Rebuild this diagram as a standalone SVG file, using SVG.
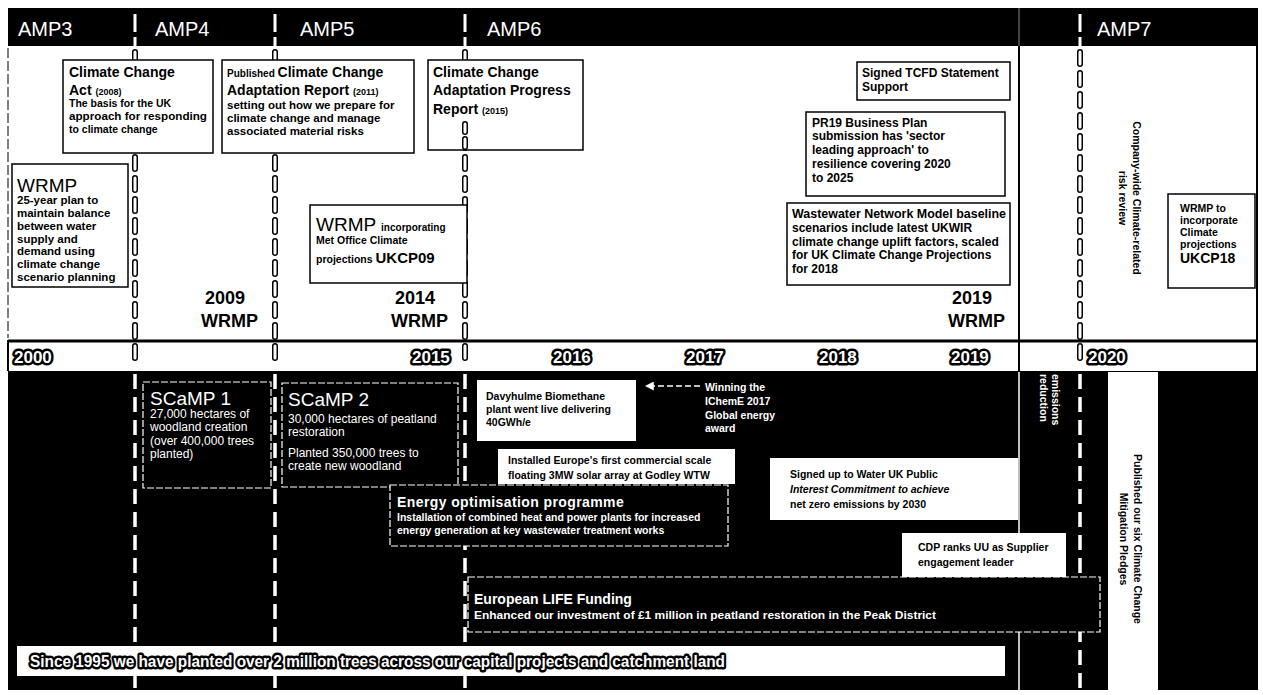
<svg xmlns="http://www.w3.org/2000/svg" width="1263" height="695" viewBox="0 0 1263 695">
<defs>
<style>
text{font-family:"Liberation Sans",Arial,sans-serif}
.amp{font-size:20px;fill:#fff}
.s{font-size:10.5px;font-weight:bold;fill:#000}
.m{font-size:11.5px;font-weight:bold;fill:#000}
.l{font-size:12px;font-weight:bold;fill:#000}
.sw{font-size:10.5px;font-weight:bold;fill:#fff}
.rw{font-size:12px;fill:#fff}
.h{font-size:14px;font-weight:bold;fill:#000}
.hw{font-size:14px;fill:#fff;font-weight:bold}
.big{font-size:19px;fill:#000}
.bigw{font-size:19px;fill:#fff}
.yr{font-size:17px;font-weight:bold;fill:#fff;stroke:#000;stroke-width:5;paint-order:stroke;stroke-linejoin:round}
.wr{font-size:18px;font-weight:bold;fill:#000}
.box{fill:#fff;stroke:#000;stroke-width:1.5}
.wbox{fill:#fff;stroke:none}
.dbox{fill:#000;stroke:#fff;stroke-width:1.2;stroke-dasharray:7 2}
.sm{font-size:9px}
</style>
<marker id="ah" viewBox="0 0 10 10" refX="2" refY="5" markerWidth="6" markerHeight="6" orient="auto-start-reverse">
<path d="M0 0 L10 5 L0 10 z" fill="#fff"/>
</marker>
</defs>
<rect width="1263" height="695" fill="#fff"/>
<g id="background">
<rect x="8" y="8" width="1250" height="38" fill="#000"/>
<rect x="8" y="371" width="1250" height="319" fill="#000"/>
<rect x="1108" y="372" width="50" height="318" fill="#fff"/>
<line x1="8" y1="48" x2="8" y2="338" stroke="#000" stroke-width="1" stroke-dasharray="10 3"/>
<line x1="1257" y1="46" x2="1257" y2="340" stroke="#000" stroke-width="2"/>
<line x1="8" y1="341" x2="1258" y2="341" stroke="#000" stroke-width="3"/>
<line x1="8" y1="340" x2="8" y2="371" stroke="#000" stroke-width="2"/>
<line x1="1257" y1="340" x2="1257" y2="371" stroke="#000" stroke-width="2"/>
<line x1="1019" y1="8" x2="1019" y2="46" stroke="#888" stroke-width="1"/>
<line x1="1019" y1="46" x2="1019" y2="371" stroke="#000" stroke-width="2"/>
<line x1="1019" y1="372" x2="1019" y2="690" stroke="#fff" stroke-width="1.5"/>
</g>
<g id="dividers">
<path d="M135 14 V32 M135 37 V46 M275 14 V32 M275 37 V46 M465 14 V32 M465 37 V46 M1080 14 V32 M1080 37 V46" stroke="#fff" stroke-width="3"/>
<path d="M135 52 V366 M275 52 V366 M465 52 V366 M1080 52 V366" stroke="#000" stroke-width="6" stroke-dasharray="12 9" stroke-linecap="round" fill="none"/>
<path d="M135 52 V366 M275 52 V366 M465 52 V366 M1080 52 V366" stroke="#fff" stroke-width="3" stroke-dasharray="12 9" stroke-linecap="round" fill="none"/>
<path d="M135 374 V690 M275 374 V690 M465 374 V690 M1080 374 V690" stroke="#fff" stroke-width="3.5" stroke-dasharray="15 8" fill="none"/>
</g>
<g id="amp-labels">
<text class="amp" x="18" y="36">AMP3</text>
<text class="amp" x="155" y="36">AMP4</text>
<text class="amp" x="300" y="36">AMP5</text>
<text class="amp" x="487" y="36">AMP6</text>
<text class="amp" x="1097" y="36">AMP7</text>
</g>
<g id="years">
<text class="yr" x="14" y="363">2000</text>
<text class="yr" x="412" y="363">2015</text>
<text class="yr" x="553" y="363">2016</text>
<text class="yr" x="686" y="363">2017</text>
<text class="yr" x="819" y="363">2018</text>
<text class="yr" x="951" y="363">2019</text>
<text class="yr" x="1088" y="363">2020</text>
</g>
<g id="cc-act">
<rect class="box" x="63" y="60" width="150" height="93"/>
<text class="h" x="69" y="77">Climate Change</text>
<text class="h" x="69" y="95">Act <tspan class="sm">(2008)</tspan></text>
<text class="s" x="69" y="107">The basis for the UK</text>
<text class="s" x="69" y="120" textLength="138" lengthAdjust="spacingAndGlyphs">approach for responding</text>
<text class="s" x="69" y="133">to climate change</text>
</g>
<g id="cc-adaptation">
<rect class="box" x="222" y="60" width="192" height="93"/>
<text class="h" x="227" y="77"><tspan font-size="10">Published </tspan>Climate Change</text>
<text class="h" x="227" y="95">Adaptation Report <tspan class="sm">(2011)</tspan></text>
<text class="m" x="227" y="109">setting out how we prepare for</text>
<text class="m" x="227" y="122">climate change and manage</text>
<text class="m" x="227" y="135">associated material risks</text>
</g>
<g id="cc-progress">
<rect class="box" x="428" y="60" width="155" height="90"/>
<text class="h" x="433" y="77">Climate Change</text>
<text class="h" x="433" y="95">Adaptation Progress</text>
<text class="h" x="433" y="114">Report <tspan class="sm">(2015)</tspan></text>
</g>
<path d="M465 124 V150" stroke="#000" stroke-width="6" stroke-dasharray="8 7" stroke-linecap="round"/>
<path d="M465 124 V150" stroke="#fff" stroke-width="3" stroke-dasharray="8 7" stroke-linecap="round"/>
<g id="tcfd">
<rect class="box" x="857" y="62" width="153" height="38"/>
<text class="l" x="862" y="77">Signed TCFD Statement</text>
<text class="l" x="862" y="91">Support</text>
</g>
<g id="pr19">
<rect class="box" x="806" y="112" width="199" height="84"/>
<text class="l" x="812" y="127">PR19 Business Plan</text>
<text class="l" x="812" y="140">submission has 'sector</text>
<text class="l" x="812" y="154">leading approach' to</text>
<text class="l" x="812" y="168">resilience covering 2020</text>
<text class="l" x="812" y="182">to 2025</text>
</g>
<g id="wastewater">
<rect class="box" x="787" y="203" width="223" height="82"/>
<text class="l" x="792" y="218" textLength="214" lengthAdjust="spacingAndGlyphs">Wastewater Network Model baseline</text>
<text class="l" x="792" y="232">scenarios include latest UKWIR</text>
<text class="l" x="792" y="246">climate change uplift factors, scaled</text>
<text class="l" x="792" y="259">for UK Climate Change Projections</text>
<text class="l" x="792" y="273">for 2018</text>
</g>
<g id="wrmp-2019">
<text class="wr" x="952" y="304">2019</text>
<text class="wr" x="948" y="327">WRMP</text>
</g>
<g id="wrmp">
<rect class="box" x="12" y="164" width="116" height="123"/>
<text class="big" x="17" y="192">WRMP</text>
<text class="m" x="17" y="204">25-year plan to</text>
<text class="m" x="17" y="217">maintain balance</text>
<text class="m" x="17" y="230">between water</text>
<text class="m" x="17" y="243">supply and</text>
<text class="m" x="17" y="255">demand using</text>
<text class="m" x="17" y="268">climate change</text>
<text class="m" x="17" y="281">scenario planning</text>
</g>
<g id="wrmp-2009">
<text class="wr" x="205" y="304">2009</text>
<text class="wr" x="201" y="327">WRMP</text>
</g>
<g id="wrmp-ukcp09">
<rect class="box" x="310" y="205" width="157" height="78"/>
<text class="big" x="316" y="231">WRMP <tspan font-size="10" font-weight="bold">incorporating</tspan></text>
<text class="s" x="316" y="244">Met Office Climate</text>
<text class="s" x="316" y="263">projections <tspan font-size="15">UKCP09</tspan></text>
</g>
<g id="wrmp-2014">
<text class="wr" x="395" y="304">2014</text>
<text class="wr" x="391" y="327">WRMP</text>
</g>
<g id="risk-review">
<text class="s" transform="translate(1133,198) rotate(90)" text-anchor="middle" font-size="12">Company-wide Climate-related<tspan x="0" dy="14">risk review</tspan></text>
</g>
<g id="wrmp-ukcp18">
<rect class="box" x="1168" y="194" width="87" height="94"/>
<text class="s" x="1180" y="212">WRMP to</text>
<text class="s" x="1180" y="224">incorporate</text>
<text class="s" x="1180" y="236">Climate</text>
<text class="s" x="1180" y="248">projections</text>
<text class="h" x="1180" y="263">UKCP18</text>
</g>
<g id="scamp1">
<rect class="dbox" x="143" y="382" width="128" height="106"/>
<text class="bigw" x="150" y="405">SCaMP 1</text>
<text class="rw" x="150" y="418">27,000 hectares of</text>
<text class="rw" x="150" y="431">woodland creation</text>
<text class="rw" x="150" y="445">(over 400,000 trees</text>
<text class="rw" x="150" y="458">planted)</text>
</g>
<g id="scamp2">
<rect class="dbox" x="282" y="383" width="176" height="104" stroke-dasharray="none"/>
<text class="bigw" x="288" y="406">SCaMP 2</text>
<text class="rw" x="288" y="423" font-size="12.5">30,000 hectares of peatland</text>
<text class="rw" x="288" y="436" font-size="12.5">restoration</text>
<text class="rw" x="288" y="457" font-size="12.5">Planted 350,000 trees to</text>
<text class="rw" x="288" y="470" font-size="12.5">create new woodland</text>
</g>
<g id="davyhulme">
<rect class="wbox" x="477" y="380" width="159" height="61"/>
<text class="s" x="486" y="400">Davyhulme Biomethane</text>
<text class="s" x="486" y="413">plant went live delivering</text>
<text class="s" x="486" y="426">40GWh/e</text>
</g>
<g id="icheme">
<text class="sw" x="705" y="391">Winning the</text>
<text class="sw" x="705" y="405">IChemE 2017</text>
<text class="sw" x="705" y="419">Global energy</text>
<text class="sw" x="705" y="432">award</text>
</g>
<g id="connectors">
<line x1="700" y1="386" x2="652" y2="386" stroke="#fff" stroke-width="1.5" stroke-dasharray="6 3" marker-end="url(#ah)"/>
</g>
<g id="solar">
<rect class="wbox" x="498" y="449" width="237" height="35"/>
<text class="s" x="508" y="464">Installed Europe's first commercial scale</text>
<text class="s" x="508" y="479">floating 3MW solar array at Godley WTW</text>
</g>
<g id="energy-opt">
<rect class="dbox" x="390" y="485" width="338" height="61"/>
<text class="hw" x="397" y="507" font-size="15" letter-spacing="0.4">Energy optimisation programme</text>
<text class="sw" x="397" y="521" font-size="11">Installation of combined heat and power plants for increased</text>
<text class="sw" x="397" y="534" font-size="11">energy generation at key wastewater treatment works</text>
</g>
<g id="water-uk">
<rect class="wbox" x="770" y="458" width="248" height="62"/>
<text class="s" x="790" y="478">Signed up to Water UK Public</text>
<text class="s" x="790" y="493" font-style="italic">Interest Commitment to achieve</text>
<text class="s" x="790" y="508">net zero emissions by 2030</text>
</g>
<g id="cdp">
<rect class="wbox" x="902" y="533" width="164" height="45"/>
<text class="s" x="918" y="551">CDP ranks UU as Supplier</text>
<text class="s" x="918" y="566">engagement leader</text>
</g>
<g id="life">
<rect class="dbox" x="468" y="577" width="632" height="55"/>
<text class="hw" x="474" y="604">European LIFE Funding</text>
<text class="sw" x="474" y="619" textLength="462" lengthAdjust="spacingAndGlyphs">Enhanced our investment of £1 million in peatland restoration in the Peak District</text>
</g>
<g id="emissions">
<text class="sw" font-size="8" transform="translate(1052,374) rotate(90)">emissions<tspan x="0" dy="12">reduction</tspan></text>
</g>
<g id="pledges">
<text class="s" transform="translate(1134,539) rotate(90)" text-anchor="middle" font-size="12">Published our six Climate Change<tspan x="0" dy="14">Mitigation Pledges</tspan></text>
</g>
<g id="trees">
<rect class="wbox" x="17" y="646" width="988" height="30"/>
<text class="yr" x="30" y="667" font-size="14" stroke-width="4" textLength="695" lengthAdjust="spacingAndGlyphs">Since 1995 we have planted over 2 million trees across our capital projects and catchment land</text>
</g>
</svg>
